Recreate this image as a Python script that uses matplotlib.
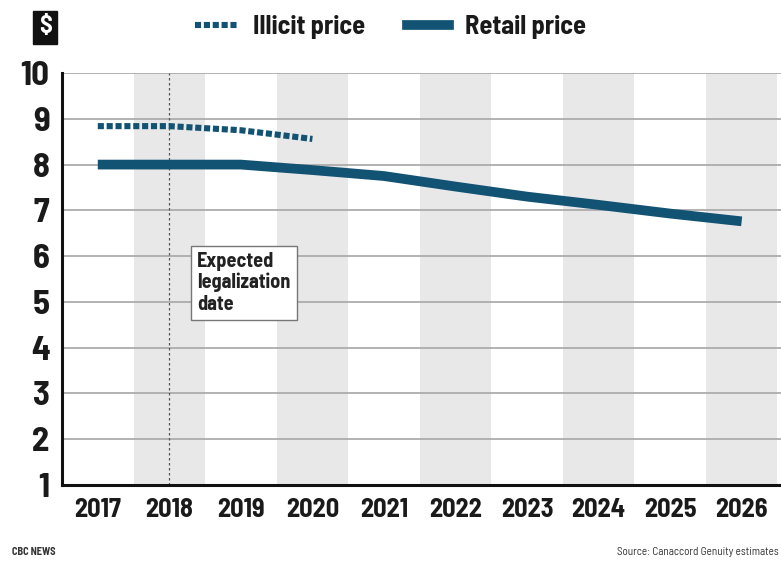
import matplotlib
matplotlib.use("Agg")
import matplotlib.pyplot as plt
from matplotlib import font_manager
from matplotlib.lines import Line2D

# Use a narrow, DIN-like bold face when one is available
names = {f.name for f in font_manager.fontManager.ttflist}
FONT = "DejaVu Sans"
for cand in ["Barlow Semi Condensed", "Roboto Condensed", "IBM Plex Sans Condensed",
             "Open Sans Condensed", "Liberation Sans Narrow"]:
    if cand in names:
        FONT = cand
        break
plt.rcParams["font.family"] = [FONT, "DejaVu Sans"]
plt.rcParams["font.weight"] = "bold"

years = [2017, 2018, 2019, 2020, 2021, 2022, 2023, 2024, 2025, 2026]
retail_price = [8.0, 8.0, 8.0, 7.88, 7.75, 7.52, 7.3, 7.12, 6.93, 6.76]
illicit_years = [2017, 2018, 2019, 2020]
illicit_price = [8.84, 8.84, 8.75, 8.56]
y_ticks = [1, 2, 3, 4, 5, 6, 7, 8, 9, 10]
legalization_year = 2018

LINE = "#125273"
BAND = "#e8e8e8"
GRID = "#a6a6a6"
INK = "#1a1a1a"

fig = plt.figure(figsize=(7.81, 5.63), dpi=100)
ax = fig.add_axes([0.0794, 0.1385, 0.9206, 0.7318])

# Alternating column shading on even years
for yr in years:
    if yr % 2 == 0:
        ax.axvspan(yr - 0.5, yr + 0.5, color=BAND, lw=0, zorder=0)

ax.set_xlim(years[0] - 0.5, years[-1] + 0.55)
ax.set_ylim(y_ticks[0], y_ticks[-1])
ax.set_yticks(y_ticks)
ax.set_xticks(years)
ax.set_xticklabels([str(y) for y in years])
ax.yaxis.grid(True, color=GRID, lw=1.2, zorder=1)
ax.set_axisbelow(True)

for s in ["top", "right"]:
    ax.spines[s].set_visible(False)
for s in ["left", "bottom"]:
    ax.spines[s].set_linewidth(2.2)
    ax.spines[s].set_color("#111111")
    ax.spines[s].set_zorder(5)

ax.tick_params(axis="y", length=0, pad=9, labelsize=25, labelcolor=INK)
ax.tick_params(axis="x", length=0, pad=9, labelsize=19, labelcolor=INK)
for lab in ax.get_xticklabels() + ax.get_yticklabels():
    lab.set_fontweight("bold")

# Expected legalization marker
ax.axvline(legalization_year, color="#555555", lw=0.9, ls=(0, (2, 2)), zorder=2)

# Price lines
ax.plot(years, retail_price, color=LINE, lw=7, solid_capstyle="butt", zorder=4)
ax.plot(illicit_years, illicit_price, color=LINE, lw=4.4,
        ls=(0, (1.0, 0.45)), dash_capstyle="butt", zorder=4)

ax.text(legalization_year + 0.39, 6.1, "Expected\nlegalization\ndate",
        fontsize=14.5, fontweight="bold", color="#222222", ha="left", va="top",
        linespacing=1.15, zorder=6,
        bbox=dict(boxstyle="square,pad=0.3", fc="white", ec="#777777", lw=1))

# Legend across the top
handles = [
    Line2D([], [], color=LINE, lw=4.4, ls=(0, (1.0, 0.45))),
    Line2D([], [], color=LINE, lw=7),
]
fig.legend(handles, ["Illicit price", "Retail price"], loc="center",
           bbox_to_anchor=(0.5, 0.952), ncol=2, frameon=False,
           prop={"size": 19, "weight": "bold"}, handlelength=1.6,
           handletextpad=0.6, columnspacing=1.6, labelcolor=INK)

fig.text(0.058, 0.952, "$", color="white", fontsize=18, fontweight="bold",
         ha="center", va="center",
         bbox=dict(boxstyle="square,pad=0.22", fc="#111111", ec="#111111"))

fig.text(0.015, 0.019, "CBC NEWS", fontsize=7.5, fontweight="bold",
         color="#333333", ha="left", va="center")
fig.text(0.997, 0.019, "Source: Canaccord Genuity estimates", fontsize=8,
         fontweight="normal", color="#333333", ha="right", va="center")

fig.savefig("out.png", dpi=100)
